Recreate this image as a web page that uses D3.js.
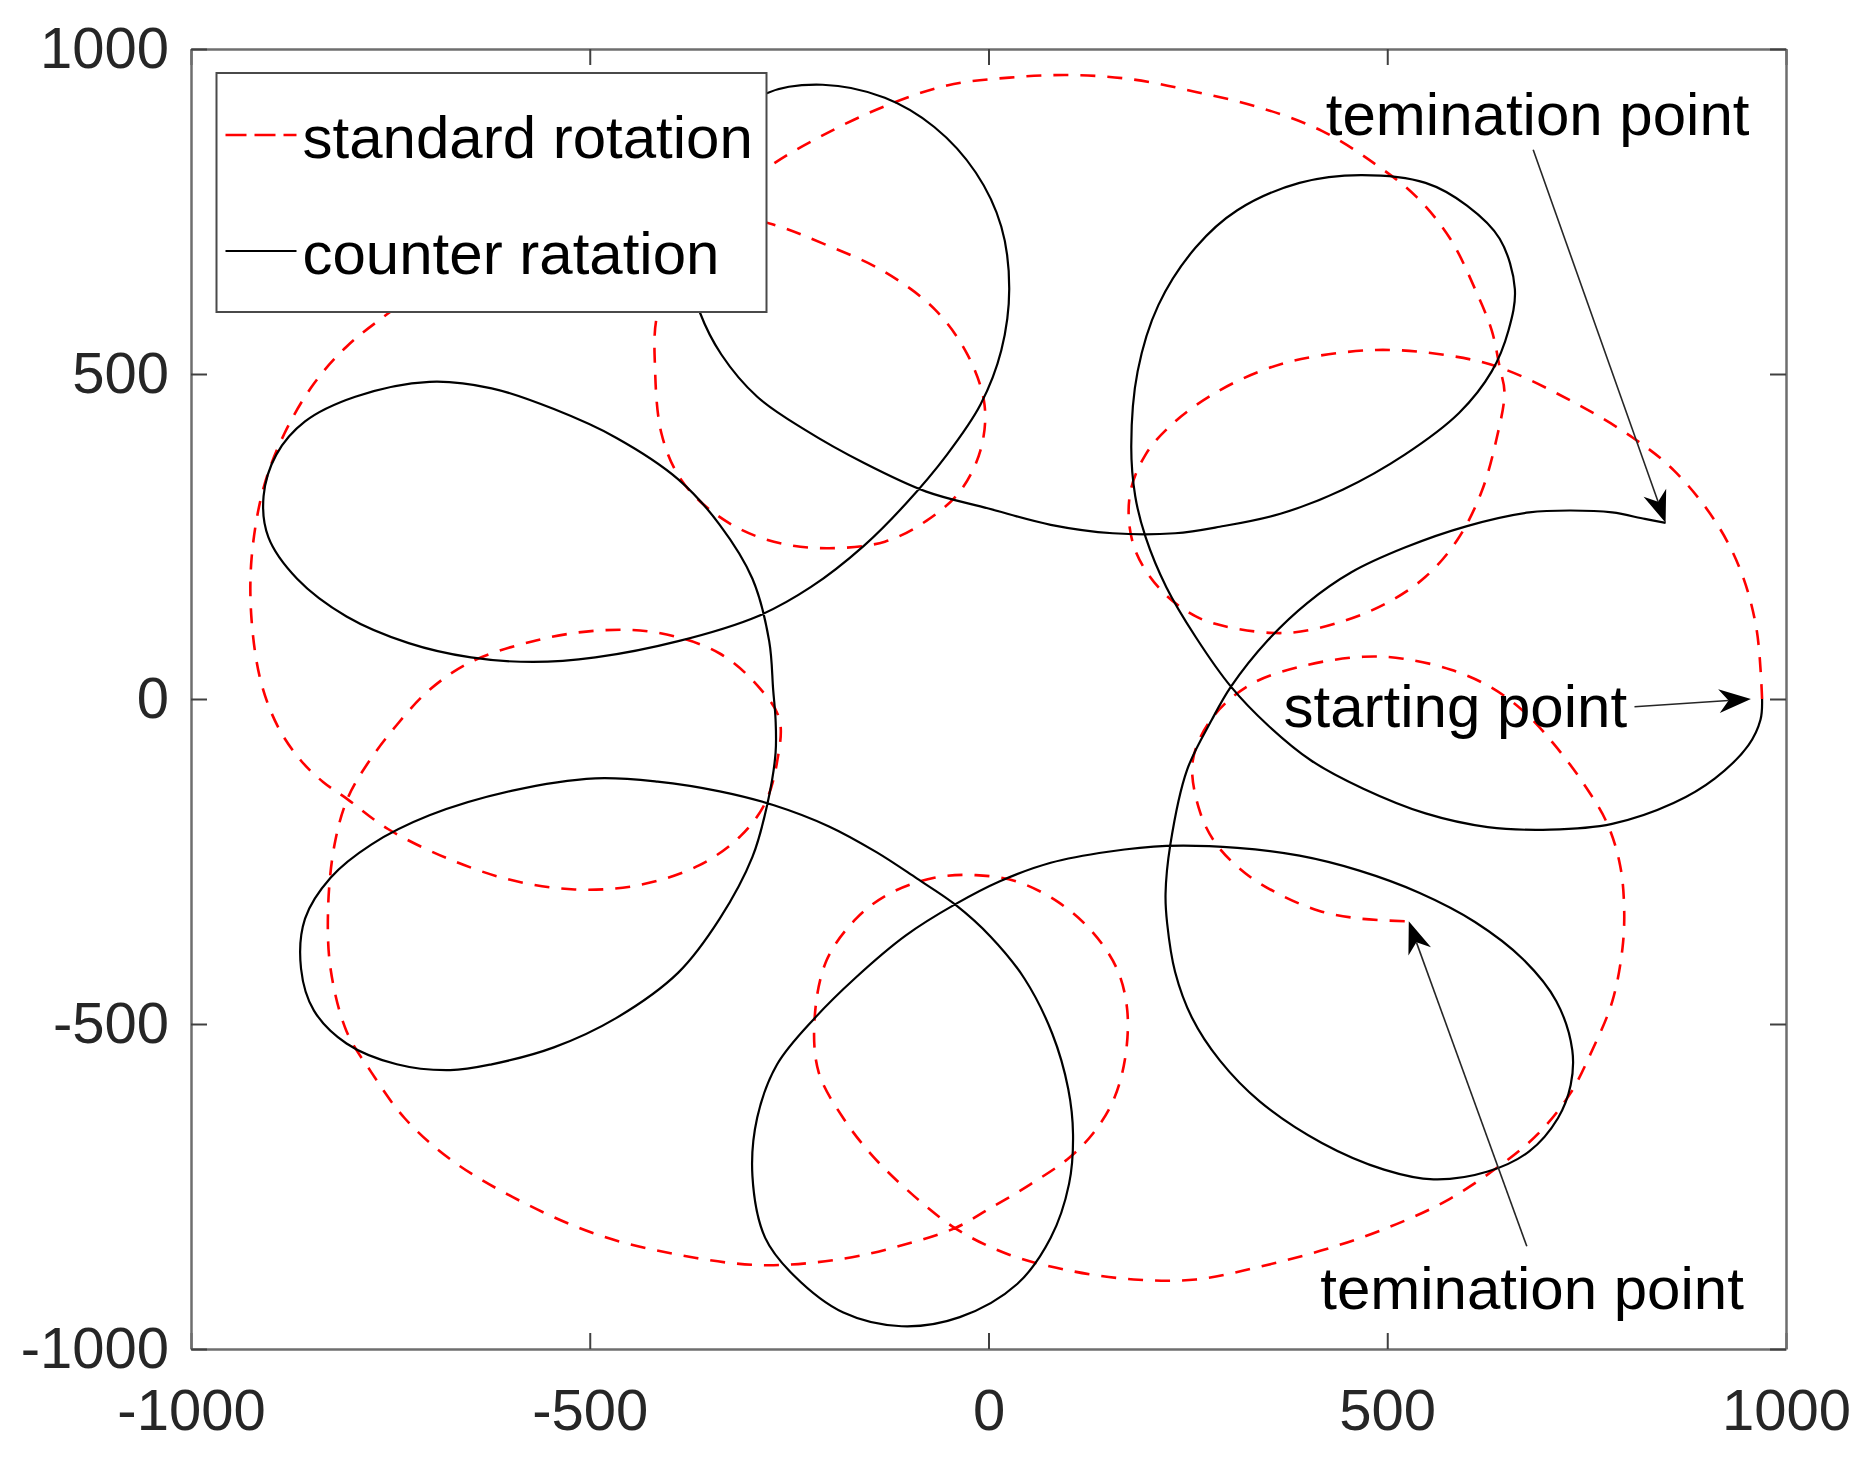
<!DOCTYPE html>
<html>
<head>
<meta charset="utf-8">
<script src="https://d3js.org/d3.v7.min.js"></script>
<style>
  body { margin: 0; background: #fff; }
  svg text { font-family: "Liberation Sans", Arial, Helvetica, sans-serif; }
</style>
</head>
<body>
<div id="chart"></div>
<script>

var xTicks = [-1000, -500, 0, 500, 1000];
var yTicks = [-1000, -500, 0, 500, 1000];
var seriesNames = ["standard rotation", "counter ratation"];

// red dashed trajectory (x, y)
var standardRotation = [
  [970,0],[963,108],[943,198],[911,274],[860,351],[808,402],[730,459],[641,510],[574,529],[486,537],
  [392,523],[340,504],[286,472],[234,427],[197,376],[177,312],[182,236],[213,172],[260,127],[312,108],
  [379,102],[445,120],[500,148],[548,188],[588,245],[618,318],[637,400],[647,472],[641,510],[631,567],
  [610,631],[579,708],[537,772],[486,822],[418,874],[340,910],[260,934],[182,953],[104,960],[26,956],
  [-52,944],[-130,912],[-208,867],[-278,816],[-338,748],[-385,672],[-415,593],[-418,504],[-410,408],[-389,344],
  [-358,300],[-311,261],[-259,239],[-200,232],[-130,242],[-78,274],[-36,319],[-10,383],[-5,453],[-26,529],
  [-67,599],[-130,657],[-208,701],[-270,730],[-338,748],[-465,745],[-619,708],[-753,593],[-805,542],[-846,485],
  [-883,408],[-909,325],[-924,217],[-924,121],[-912,25],[-890,-45],[-862,-95],[-834,-128],[-804,-154],[-753,-200],
  [-675,-247],[-597,-279],[-519,-293],[-441,-287],[-363,-256],[-311,-211],[-280,-160],[-265,-96],[-262,-32],[-285,14],
  [-337,70],[-415,102],[-493,105],[-571,89],[-649,57],[-701,14],[-742,-40],[-779,-100],[-804,-154],[-820,-224],
  [-828,-319],[-825,-415],[-805,-511],[-774,-574],[-732,-645],[-675,-708],[-597,-766],[-493,-823],[-389,-855],[-285,-871],
  [-182,-861],[-104,-839],[-42,-814],[0,-785],[52,-747],[99,-708],[130,-670],[156,-619],[171,-555],[174,-479],
  [161,-415],[130,-358],[88,-313],[36,-281],[-16,-271],[-68,-275],[-125,-300],[-166,-338],[-203,-402],[-218,-491],
  [-213,-574],[-182,-645],[-146,-702],[-104,-753],[-42,-814],[26,-855],[104,-880],[182,-893],[260,-893],[338,-874],
  [416,-849],[493,-817],[574,-772],[652,-708],[693,-664],[730,-606],[756,-543],[782,-466],[795,-383],[797,-319],
  [792,-256],[776,-192],[745,-128],[708,-68],[672,-20],[630,18],[580,45],[520,62],[470,65],[395,51],
  [328,22],[280,-30],[256,-96],[265,-173],[286,-224],[322,-268],[364,-300],[415,-326],[467,-338],[527,-342]
];

// black solid trajectory
var counterRotation = [
  [970,0],[968,-32],[953,-71],[911,-122],[859,-160],[782,-192],[704,-201],[626,-197],[548,-176],[470,-138],
  [405,-95],[350,-40],[304,19],[260,95],[223,172],[197,249],[184,312],[179,389],[187,504],[213,606],
  [260,695],[312,752],[390,794],[467,806],[548,794],[600,759],[641,708],[660,631],[652,567],[631,504],
  [590,440],[522,376],[444,322],[366,285],[290,265],[234,255],[156,255],[78,268],[0,293],[-78,319],
  [-156,363],[-230,414],[-290,465],[-335,530],[-362,595],[-378,670],[-378,750],[-357,828],[-322,888],[-278,932],
  [-208,945],[-130,925],[-68,880],[-16,810],[16,727],[26,631],[16,536],[-10,453],[-52,376],[-104,300],
  [-156,236],[-223,172],[-290,127],[-389,89],[-493,64],[-571,57],[-649,64],[-727,86],[-805,127],[-867,185],
  [-903,249],[-909,312],[-893,376],[-857,427],[-794,465],[-701,488],[-623,478],[-545,446],[-467,402],[-389,338],
  [-337,268],[-296,185],[-275,89],[-270,14],[-267,-32],[-267,-83],[-277,-160],[-296,-243],[-337,-338],[-389,-421],
  [-467,-491],[-545,-536],[-623,-562],[-675,-571],[-742,-562],[-805,-530],[-846,-479],[-862,-415],[-857,-338],[-825,-275],
  [-774,-224],[-701,-179],[-597,-141],[-493,-122],[-415,-127],[-337,-142],[-270,-163],[-200,-196],[-140,-236],[-90,-276],
  [-42,-316],[3,-366],[45,-430],[80,-515],[100,-600],[106,-670],[101,-746],[78,-829],[36,-900],[-36,-951],
  [-109,-965],[-182,-944],[-244,-887],[-280,-829],[-296,-734],[-290,-644],[-265,-562],[-218,-491],[-166,-428],[-104,-364],
  [-42,-316],[15,-280],[78,-252],[150,-235],[223,-226],[312,-229],[390,-241],[465,-264],[540,-298],[610,-343],
  [670,-400],[712,-465],[732,-540],[730,-594],[714,-645],[678,-696],[626,-727],[558,-739],[496,-724],[418,-683],
  [340,-619],[290,-556],[255,-490],[234,-420],[224,-345],[222,-300],[228,-224],[249,-109],[280,-32],[304,19],
  [350,90],[400,148],[455,195],[522,233],[600,266],[678,287],[730,290],[782,287],[823,277],[849,271]
];

var annotationLabels = ["temination point", "starting point", "temination point"];

var W = 1868, H = 1460;
var plot = { left: 191, right: 1786, top: 49, bottom: 1349 };
var axisColor = '#6e6e6e';
var fontSize = 58;

var x = d3.scaleLinear().domain([-1000, 1000]).range([plot.left, plot.right]);
var y = d3.scaleLinear().domain([-1000, 1000]).range([plot.bottom, plot.top]);

var svg = d3.select('#chart').append('svg')
  .attr('width', W)
  .attr('height', H);

svg.append('rect').attr('width', W).attr('height', H).attr('fill', '#fff');

var line = d3.line()
  .x(function(d){ return x(d[0]); })
  .y(function(d){ return y(d[1]); })
  .curve(d3.curveCatmullRom.alpha(0.5));

svg.append('path')
  .datum(standardRotation)
  .attr('d', line)
  .attr('fill', 'none')
  .attr('stroke', '#ff0000')
  .attr('stroke-width', 2.6)
  .attr('stroke-dasharray', '15,12');

svg.append('path')
  .datum(counterRotation)
  .attr('d', line)
  .attr('fill', 'none')
  .attr('stroke', '#000')
  .attr('stroke-width', 2.2);

// axes, ticks pointing inwards on all four sides
function drawAxis(axis, tx, ty){
  var g = svg.append('g')
    .attr('transform', 'translate(' + tx + ',' + ty + ')')
    .call(axis);
  g.attr('font-size', fontSize).attr('font-family', null);
  g.select('.domain').attr('stroke', axisColor).attr('stroke-width', 2.5);
  g.selectAll('.tick line').attr('stroke', '#404040').attr('stroke-width', 2);
  g.selectAll('.tick text').attr('fill', '#262626');
  return g;
}

drawAxis(d3.axisBottom(x).tickValues(xTicks).tickSizeInner(-16).tickSizeOuter(0)
  .tickPadding(40).tickFormat(function(d){ return String(d); }), 0, plot.bottom);
drawAxis(d3.axisTop(x).tickValues(xTicks).tickSizeInner(-16).tickSizeOuter(0)
  .tickFormat(''), 0, plot.top);
drawAxis(d3.axisLeft(y).tickValues(yTicks).tickSizeInner(-16).tickSizeOuter(0)
  .tickPadding(22).tickFormat(function(d){ return String(d); }), plot.left, 0);
drawAxis(d3.axisRight(y).tickValues(yTicks).tickSizeInner(-16).tickSizeOuter(0)
  .tickFormat(''), plot.right, 0);

// legend
var legend = svg.append('g').attr('transform', 'translate(216.5,73)');
legend.append('rect')
  .attr('width', 550).attr('height', 239)
  .attr('fill', '#fff')
  .attr('stroke', '#4a4a4a')
  .attr('stroke-width', 2);
legend.append('line')
  .attr('x1', 9).attr('x2', 80).attr('y1', 62).attr('y2', 62)
  .attr('stroke', '#ff0000').attr('stroke-width', 2.6).attr('stroke-dasharray', '21,8');
legend.append('line')
  .attr('x1', 9).attr('x2', 80).attr('y1', 178).attr('y2', 178)
  .attr('stroke', '#000').attr('stroke-width', 2.2);
legend.selectAll('text.lab')
  .data(seriesNames)
  .enter().append('text')
  .attr('class', 'lab')
  .attr('x', 86)
  .attr('y', function(d, i){ return 85 + i * 116; })
  .attr('font-size', 60)
  .attr('fill', '#000')
  .text(function(d){ return d; });

// annotations: text anchor and arrow tail in data units, tips on the curves
var startPt = counterRotation[0];
var endBlack = counterRotation[counterRotation.length - 1];
var endRed = standardRotation[standardRotation.length - 1];
var notes = [
  { text: annotationLabels[0], at: [423, 868], from: [683, 845], to: endBlack },
  { text: annotationLabels[1], at: [370, -43], from: [810, -12], to: [startPt[0] - 14, startPt[1]] },
  { text: annotationLabels[2], at: [416, -938], from: [675, -842], to: endRed }
];

function drawArrow(from, to){
  var x1 = x(from[0]), y1 = y(from[1]);
  var x2 = x(to[0]), y2 = y(to[1]);
  var ang = Math.atan2(y2 - y1, x2 - x1);
  var L = 32, Wd = 12;
  var bx = x2 - Math.cos(ang) * L * 0.7, by = y2 - Math.sin(ang) * L * 0.7;
  svg.append('line')
    .attr('x1', x1).attr('y1', y1).attr('x2', bx).attr('y2', by)
    .attr('stroke', '#262626').attr('stroke-width', 1.6);
  var pts = [[0, 0], [-L, Wd], [-L * 0.7, 0], [-L, -Wd]];
  svg.append('polygon')
    .attr('points', pts.map(function(p){ return p.join(','); }).join(' '))
    .attr('transform', 'translate(' + x2 + ',' + y2 + ') rotate(' + (ang * 180 / Math.PI) + ')')
    .attr('fill', '#000');
}

notes.forEach(function(n){
  drawArrow(n.from, n.to);
  svg.append('text')
    .attr('x', x(n.at[0]))
    .attr('y', y(n.at[1]))
    .attr('font-size', 60)
    .attr('fill', '#000')
    .text(n.text);
});

</script>
</body>
</html>
